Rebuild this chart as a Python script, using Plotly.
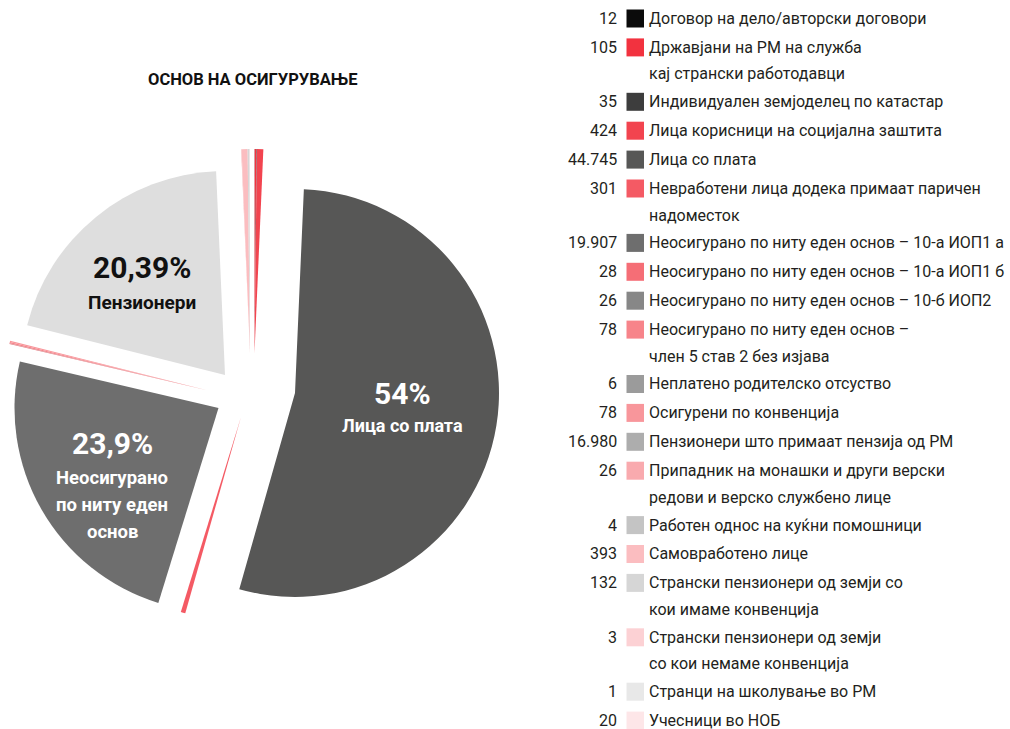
import plotly.graph_objects as go

# ---------------- data ----------------
values = [12, 105, 35, 424, 44745, 301, 19907, 28, 26, 78, 6, 78, 16980, 26, 4, 393, 132, 3, 1, 20]
labels = [
    "Договор на дело/авторски договори",
    "Државјани на РМ на служба<br>кај странски работодавци",
    "Индивидуален земјоделец по катастар",
    "Лица корисници на социјална заштита",
    "Лица со плата",
    "Невработени лица додека примаат паричен<br>надоместок",
    "Неосигурано по ниту еден основ – 10-а ИОП1 а",
    "Неосигурано по ниту еден основ – 10-а ИОП1 б",
    "Неосигурано по ниту еден основ – 10-б ИОП2",
    "Неосигурано по ниту еден основ –<br>член 5 став 2 без изјава",
    "Неплатено родителско отсуство",
    "Осигурени по конвенција",
    "Пензионери што примаат пензија од РМ",
    "Припадник на монашки и други верски<br>редови и верско службено лице",
    "Работен однос на куќни помошници",
    "Самовработено лице",
    "Странски пензионери од земји со<br>кои имаме конвенција",
    "Странски пензионери од земји<br>со кои немаме конвенција",
    "Странци на школување во РМ",
    "Учесници во НОБ",
]
legend_colors = ["#0b0b0b", "#f2323f", "#3d3d3d", "#f2444f", "#575756", "#f45a64",
                 "#6e6e6e", "#f56e76", "#878787", "#f7848a", "#9b9b9b", "#f8969b",
                 "#adadad", "#f9aaae", "#c4c4c4", "#fbbdc0", "#d6d6d6", "#fcd1d4",
                 "#e8e8e8", "#fde6e8"]
slice_colors = list(legend_colors)
slice_colors[12] = "#dedede"

title_text = "ОСНОВ НА ОСИГУРУВАЊЕ"
big_pct = ["54%", "23,9%", "20,39%"]
big_names = ["Лица со плата", "Неосигурано<br>по ниту еден<br>основ", "Пензионери"]

# ---------------- layout constants ----------------
W, H = 1010, 729
FONT = "Roboto, Liberation Sans, sans-serif"
R = 204
groups = [
    ([0, 1, 2, 3], (254.5, 353)),
    ([4], (295, 393)),
    ([5], (241, 417)),
    ([6], (218.5, 408)),
    ([7, 8, 9, 10, 11], (208, 390.5)),
    ([12], (225, 375)),
    ([13, 14, 15, 16, 17, 18, 19], (250, 353)),
]

def px(x):
    return x / W

def py(y):
    return 1 - y / H

fig = go.Figure()
for idx, (vx, vy) in groups:
    cols = [slice_colors[i] if i in idx else "rgba(0,0,0,0)" for i in range(len(values))]
    fig.add_trace(go.Pie(
        values=values,
        labels=[str(i) for i in range(len(values))],
        sort=False, direction="clockwise", rotation=0,
        marker=dict(colors=cols, line=dict(width=0)),
        textinfo="none", hoverinfo="skip", showlegend=False,
        domain=dict(x=[px(vx - R), px(vx + R)], y=[py(vy + R), py(vy - R)]),
    ))

ann = []
# title
ann.append(dict(x=px(252.5), y=py(80), text=f"<b>{title_text}</b>", showarrow=False,
                xanchor="center", yanchor="middle",
                font=dict(family=FONT, size=16.5, color="#111111")))

# big slice labels
big_pos = [(402, 393, 425), (112, 443, 478), (142, 268, 302)]
big_text_col = ["#ffffff", "#ffffff", "#111111"]
big_pct_size = [30, 30, 30]
big_name_size = [18, 18.5, 19]
name_lh = 27
for k in range(3):
    cx, ypct, yname = big_pos[k]
    ann.append(dict(x=px(cx), y=py(ypct), text=f"<b>{big_pct[k]}</b>", showarrow=False,
                    xanchor="center", yanchor="middle",
                    font=dict(family=FONT, size=big_pct_size[k], color=big_text_col[k])))
    for j, line in enumerate(big_names[k].split("<br>")):
        ann.append(dict(x=px(cx), y=py(yname + j * name_lh), text=f"<b>{line}</b>",
                        showarrow=False, xanchor="center", yanchor="middle",
                        font=dict(family=FONT, size=big_name_size[k], color=big_text_col[k])))

# custom legend
shapes = []
LS = 16
line_h = 26.5
y = 18.5
for i, v in enumerate(values):
    lines = labels[i].split("<br>")
    num = f"{v:,}".replace(",", ".")
    ann.append(dict(x=px(619), y=py(y), text=num, showarrow=False,
                    xanchor="right", yanchor="middle",
                    font=dict(family=FONT, size=LS, color="#231f20")))
    shapes.append(dict(type="rect", xref="paper", yref="paper",
                       x0=px(626.5), x1=px(644), y0=py(y + 9), y1=py(y - 9),
                       fillcolor=legend_colors[i], line=dict(width=0)))
    for j, line in enumerate(lines):
        ann.append(dict(x=px(647), y=py(y + j * line_h), text=line,
                        showarrow=False, xanchor="left", yanchor="middle", align="left",
                        font=dict(family=FONT, size=LS, color="#231f20")))
    y += 28.9 + 25.5 * (len(lines) - 1)

fig.update_layout(
    width=W, height=H,
    margin=dict(l=0, r=0, t=0, b=0),
    paper_bgcolor="white", plot_bgcolor="white",
    showlegend=False,
    annotations=ann, shapes=shapes,
)
fig.write_html("out.html")
